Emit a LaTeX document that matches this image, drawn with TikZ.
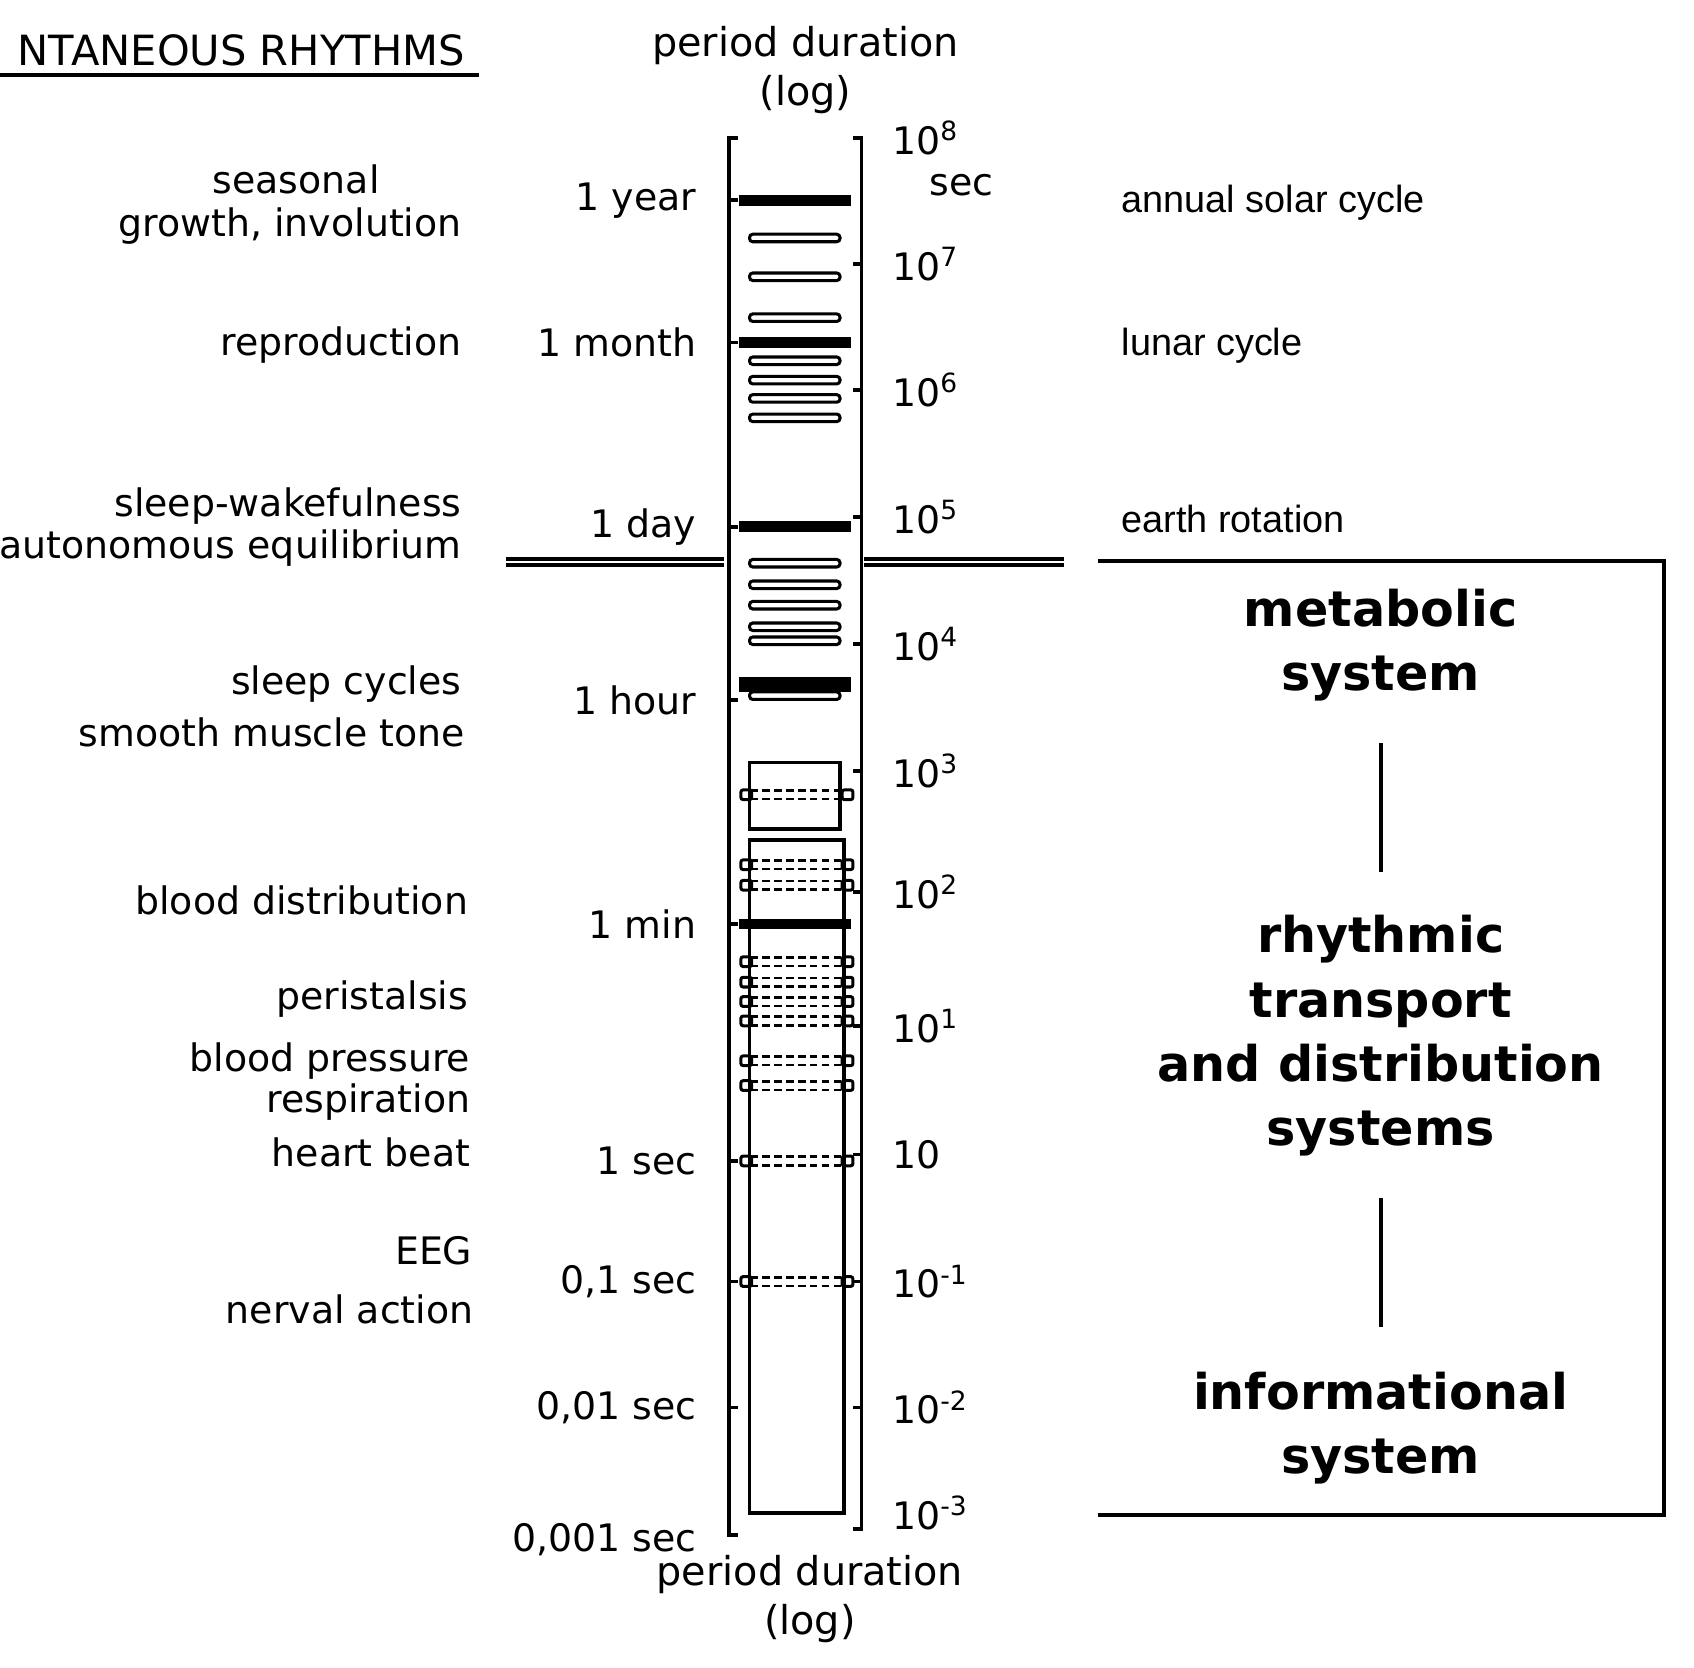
\documentclass[tikz,border=0pt]{standalone}
\usepackage{fontspec}
\setmainfont{DejaVu Sans}
\newfontfamily\arialfont{Liberation Sans}
\usetikzlibrary{positioning}
\tikzset{
  lab/.style={anchor=east, font=\fontsize{10}{12}\selectfont},
  scl/.style={anchor=west, font=\fontsize{10}{12}\selectfont},
  geo/.style={anchor=west, font=\arialfont\fontsize{10}{12}\selectfont},
  sys/.style={align=center, font=\bfseries\fontsize{13}{17}\selectfont},
  solidbar/.style={line width=0.1cm},
  hollowbar/.style={rounded corners=0.03cm, line width=0.8pt},
  dashbar/.style={dashed, dash pattern=on 0.07cm off 0.04cm, line width=0.7pt},
}
\newcommand{\dashrung}[1]{%
  \draw[dashbar] (6.97,-#1+0.04) -- (7.83,-#1+0.04) (6.97,-#1-0.04) -- (7.83,-#1-0.04);
  \draw[rounded corners=0.02cm, line width=0.8pt] (6.88,-#1-0.045) rectangle (6.98,-#1+0.045);
  \draw[rounded corners=0.02cm, line width=0.8pt] (7.82,-#1-0.045) rectangle (7.92,-#1+0.045);}
\begin{document}
\begin{tikzpicture}[line width=1pt]
\useasboundingbox (0,0) rectangle (15.73,-15.48);
% title
\node[anchor=east, font=\fontsize{11}{13}\selectfont] (title) at (4.45,-0.47) {NTANEOUS RHYTHMS};
\draw (0,-0.7) -- (4.45,-0.7);
\node[align=center, font=\fontsize{10.5}{13}\selectfont] (toplab) at (7.48,-0.65) {period duration\\(log)};
\node[align=center, font=\fontsize{10.5}{13}\selectfont] (botlab) at (7.52,-14.85) {period duration\\(log)};
% outer bracket
\draw (6.85,-1.28) -- (6.77,-1.28) -- (6.77,-14.25) -- (6.85,-14.25);
\draw (7.92,-1.28) -- (8.0,-1.28) -- (8.0,-14.2) -- (7.92,-14.2);
% left scale
\foreach \y/\t in {1.86/1 year, 3.18/1 month, 4.89/1 day, 6.50/1 hour, 8.58/1 min,
                   10.78/1 sec, 11.90/{0,1 sec}, 13.07/{0,01 sec}} {
  \draw (6.77,-\y) -- (6.85,-\y);
  \node[lab] at (6.6,-\y) {\t};
}
\node[lab] at (6.6,-14.3) {0,001 sec};
% right scale
\foreach \y/\e in {2.45/7, 3.62/6, 4.80/5, 5.98/4, 7.16/3, 8.28/2, 9.53/1, 11.90/{-1}, 13.07/{-2}} {
  \draw (8.0,-\y) -- (7.92,-\y);
  \node[scl] at (8.15,-\y) {10\textsuperscript{\e}};
}
\draw (8.0,-10.72) -- (7.92,-10.72);
\node[scl] at (8.15,-10.72) {10};
\node[scl] at (8.15,-1.28) {10\textsuperscript{8}};
\node[scl] at (8.15,-14.05) {10\textsuperscript{-3}};
\node[scl] at (8.5,-1.72) {sec};
% solid bars
\foreach \y in {1.86, 3.18, 4.89, 8.58}
  \draw[solidbar] (6.86,-\y) -- (7.9,-\y);
\draw[line width=0.14cm] (6.86,-6.36) -- (7.9,-6.36);
% hollow bars
\foreach \y in {2.21, 2.57, 2.95, 3.35, 3.53, 3.70, 3.88, 5.23, 5.43, 5.62, 5.82, 5.95, 6.46}
  \draw[hollowbar] (6.96,-\y-0.035) rectangle (7.8,-\y+0.035);
% inner column
\draw (6.96,-7.08) rectangle (7.8,-7.70);
\draw (6.96,-8.05) -- (6.96,-7.80) -- (7.84,-7.80) -- (7.84,-8.05);
\draw (6.96,-8.05) -- (6.96,-14.05) -- (7.84,-14.05) -- (7.84,-8.05);
\foreach \y in {7.38, 8.03, 8.22, 8.93, 9.12, 9.30, 9.48, 9.85, 10.08, 10.78, 11.90}
  \dashrung{\y}
% separator
\draw (4.7,-5.19) -- (6.72,-5.19) (4.7,-5.25) -- (6.72,-5.25);
\draw (8.02,-5.19) -- (9.88,-5.19) (8.02,-5.25) -- (9.88,-5.25);
% left labels
\node[font=\fontsize{10}{12}\selectfont] at (2.75,-1.67) {seasonal};
\node[lab] at (4.42,-2.10) {growth, involution};
\node[lab] at (4.42,-3.20) {reproduction};
\node[lab] at (4.42,-4.70) {sleep-wakefulness};
\node[lab] at (4.42,-5.09) {autonomous equilibrium};
\node[lab] at (4.42,-6.35) {sleep cycles};
\node[lab] at (4.45,-6.80) {smooth muscle tone};
\node[lab] at (4.48,-8.36) {blood distribution};
\node[lab] at (4.48,-9.28) {peristalsis};
\node[lab] at (4.50,-9.85) {blood pressure};
\node[lab] at (4.50,-10.23) {respiration};
\node[lab] at (4.50,-10.70) {heart beat};
\node[lab] at (4.52,-11.61) {EEG};
\node[lab] at (4.53,-12.16) {nerval action};
% right labels
\node[geo] at (10.28,-1.88) {annual solar cycle};
\node[geo] at (10.28,-3.21) {lunar cycle};
\node[geo] at (10.28,-4.82) {earth rotation};
% systems box
\draw (10.2,-5.21) -- (15.45,-5.21) -- (15.45,-14.07) -- (10.2,-14.07);
\node[sys] (meta) at (12.82,-5.99) {metabolic\\system};
\node[sys] (trans) at (12.82,-9.62) {rhythmic\\transport\\and distribution\\systems};
\node[sys] (info) at (12.82,-13.26) {informational\\system};
\draw (12.82,-6.9) -- (12.82,-8.1);
\draw (12.82,-11.12) -- (12.82,-12.32);
\end{tikzpicture}
\end{document}
